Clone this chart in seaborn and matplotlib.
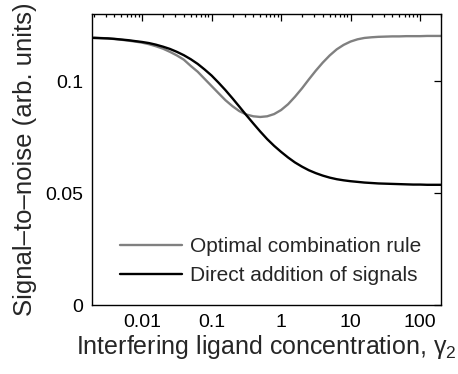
import matplotlib
matplotlib.use("Agg")
import matplotlib.pyplot as plt
import matplotlib.ticker as mticker
import numpy as np
import pandas as pd
import seaborn as sns

# Interfering ligand concentration (gamma_2), log-spaced
concentration = [0.002, 0.0025, 0.0032, 0.004, 0.005, 0.0063, 0.0079,
                 0.01, 0.0126, 0.0158, 0.02, 0.0251, 0.0316, 0.0398, 0.0501, 0.0631, 0.0794,
                 0.1, 0.126, 0.158, 0.2, 0.251, 0.316, 0.398, 0.501, 0.631, 0.794,
                 1, 1.26, 1.58, 2, 2.51, 3.16, 3.98, 5.01, 6.31, 7.94,
                 10, 12.6, 15.8, 20, 25.1, 31.6, 39.8, 50.1, 63.1, 79.4,
                 100, 126, 158, 200]
# Signal-to-noise, optimal combination rule
snr_optimal = [0.1195, 0.1193, 0.1191, 0.1188, 0.1185, 0.1181, 0.1177,
               0.1172, 0.1165, 0.1156, 0.1145, 0.1131, 0.1115, 0.1096, 0.1068, 0.1042, 0.1010,
               0.0978, 0.0946, 0.0915, 0.0888, 0.0866, 0.0851, 0.0843, 0.0840, 0.0843, 0.0853,
               0.0871, 0.0897, 0.0930, 0.0968, 0.1008, 0.1047, 0.1083, 0.1115, 0.1142, 0.1162,
               0.1177, 0.1187, 0.1193, 0.1196, 0.1198, 0.1199, 0.1200, 0.1200, 0.1201, 0.1201,
               0.1201, 0.1202, 0.1202, 0.1202]
# Signal-to-noise, direct addition of signals
snr_direct = [0.1193, 0.1192, 0.1191, 0.1189, 0.1186, 0.1183, 0.1179,
              0.1175, 0.1170, 0.1163, 0.1154, 0.1144, 0.1131, 0.1116, 0.1098, 0.1077, 0.1052,
              0.1025, 0.0993, 0.0960, 0.0923, 0.0886, 0.0848, 0.0811, 0.0775, 0.0741, 0.0711,
              0.0684, 0.0659, 0.0637, 0.0618, 0.0602, 0.0589, 0.0578, 0.0569, 0.0562, 0.0557,
              0.0553, 0.0550, 0.0547, 0.0545, 0.0543, 0.0542, 0.0541, 0.0540, 0.0539, 0.0538,
              0.0538, 0.0537, 0.0537, 0.0537]

labels = ["Optimal combination rule", "Direct addition of signals"]
x_ticks = [0.01, 0.1, 1, 10, 100]
x_tick_labels = ["0.01", "0.1", "1", "10", "100"]
y_ticks = [0, 0.05, 0.1]
y_tick_labels = ["0", "0.05", "0.1"]

df = pd.DataFrame({
    "gamma2": concentration * 2,
    "snr": snr_optimal + snr_direct,
    "rule": [labels[0]] * len(concentration) + [labels[1]] * len(concentration),
})

sns.set_style("white")
plt.rcParams["font.family"] = ["Liberation Sans", "DejaVu Sans"]

fig = plt.figure(figsize=(4.58, 3.74), dpi=100)
ax = fig.add_axes([92 / 458, 1 - 305 / 374, (441 - 92) / 458, (305 - 14) / 374])

sns.lineplot(data=df, x="gamma2", y="snr", hue="rule", hue_order=labels,
             palette=["#808080", "#000000"], linewidth=1.7, ax=ax, legend=True)

ax.set_xscale("log")
ax.set_xlim(0.0019, 200)
ax.set_ylim(0, 0.13)
ax.set_xticks(x_ticks)
ax.set_xticklabels(x_tick_labels)
ax.set_yticks(y_ticks)
ax.set_yticklabels(y_tick_labels)
ax.xaxis.set_minor_locator(mticker.LogLocator(base=10, subs=np.arange(2, 10)))
ax.xaxis.set_minor_formatter(mticker.NullFormatter())

ax.tick_params(axis="both", which="both", direction="in", top=True, right=True,
               labelsize=14, colors="black", width=0.9, pad=6.5)
ax.tick_params(axis="both", which="major", length=4.7)
ax.tick_params(axis="both", which="minor", length=2.5)
for sp in ax.spines.values():
    sp.set_visible(True)
    sp.set_color("black")
    sp.set_linewidth(1.0)

ax.set_xlabel("Interfering ligand concentration, $\\mathregular{\\gamma_2}$",
              fontsize=18, labelpad=1.5)
ax.set_ylabel("Signal\u2013to\u2013noise (arb. units)", fontsize=18.5, labelpad=6)

leg = ax.legend(loc="lower left", bbox_to_anchor=(0.056, 0.04), frameon=False,
                fontsize=15, handlelength=3.0, handletextpad=0.38,
                labelspacing=0.47, borderaxespad=0)
for h in leg.get_lines():
    h.set_linewidth(1.7)

fig.savefig("out.png", dpi=100)
